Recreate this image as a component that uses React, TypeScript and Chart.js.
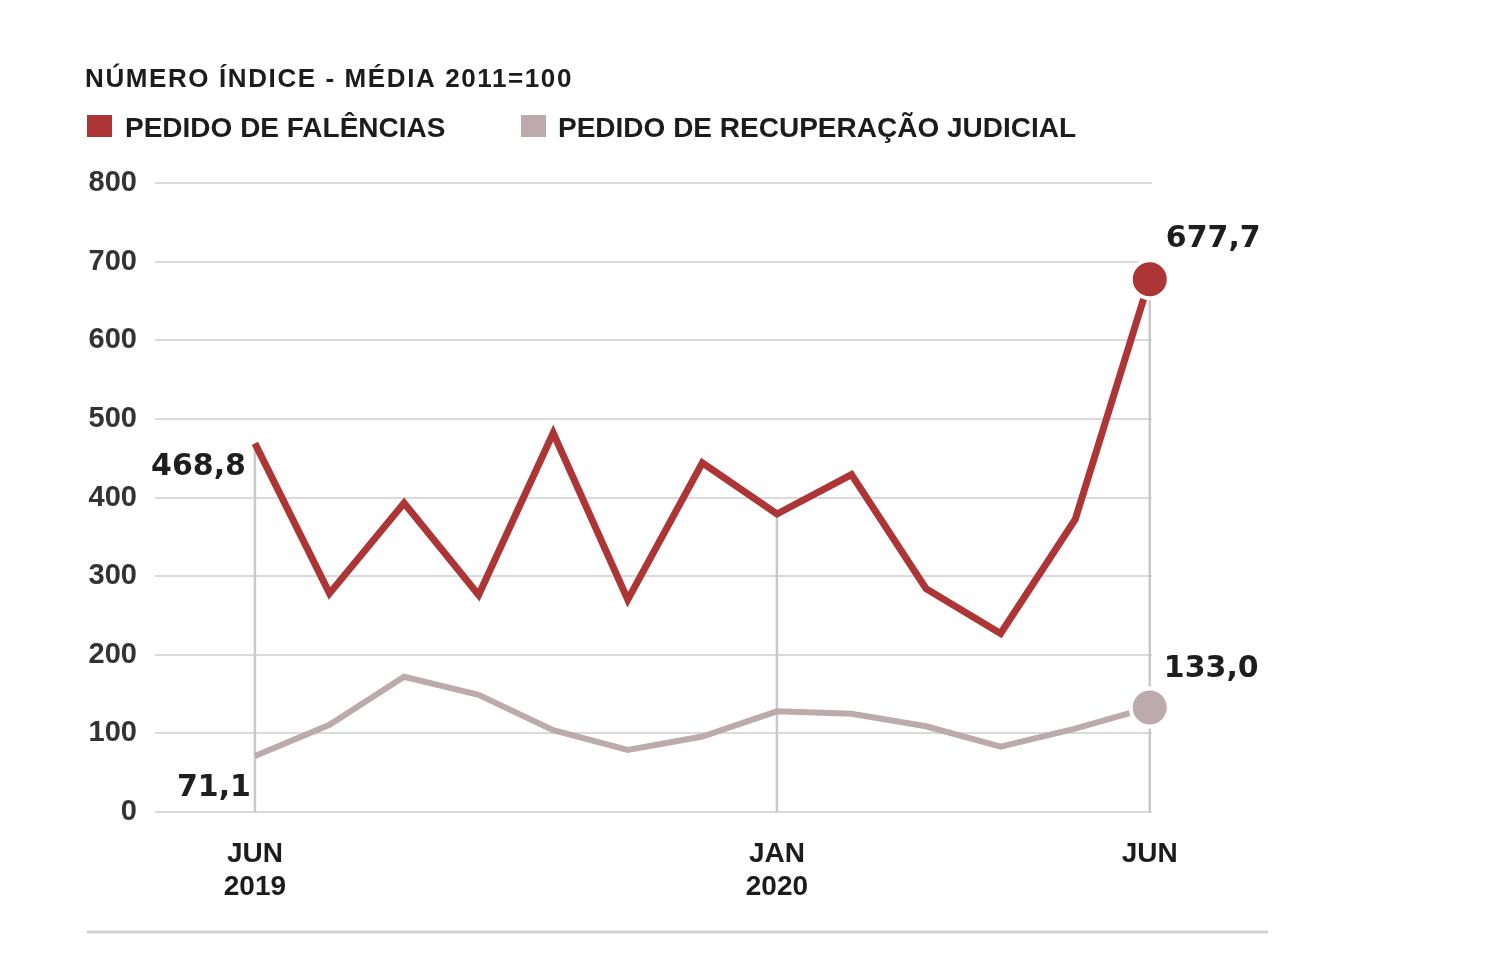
import { useEffect, useRef } from "react";
import { Chart, registerables } from "chart.js";

Chart.register(...registerables);

// ---- data ----
const months = ["JUN 2019", "JUL", "AGO", "SET", "OUT", "NOV", "DEZ", "JAN 2020", "FEV", "MAR", "ABR", "MAI", "JUN 2020"];
const falencias = [468.8, 278, 393, 276, 482, 270, 444, 379, 429, 284, 227, 372, 677.7];
const recuperacao = [71.1, 111, 172, 149, 104, 79, 96, 128, 125, 109, 83, 106, 133.0];
const xTickIndex = [0, 7, 12];
const xTickLabels = [["JUN", "2019"], ["JAN", "2020"], ["JUN"]];
const yMin = 0;
const yMax = 800;
const yStep = 100;
const titleText = "NÚMERO ÍNDICE - MÉDIA 2011=100";
const legendLabels = ["PEDIDO DE FALÊNCIAS", "PEDIDO DE RECUPERAÇÃO JUDICIAL"];

const RED = "#ad3535";
const GRAY = "#bcaaad";
const FONT = "'Liberation Sans', Arial, sans-serif";
const NUM_FONT = "'DejaVu Sans', Verdana, sans-serif";

const fmt = (v: number) => v.toFixed(1).replace(".", ",");

const decorPlugin = {
  id: "decor",
  beforeDatasetsDraw(chart: any) {
    const { ctx, scales } = chart;
    const x = scales.x;
    const y = scales.y;
    ctx.save();
    ctx.strokeStyle = "#c9c9c9";
    ctx.lineWidth = 2.5;
    xTickIndex.forEach((i) => {
      const px = x.getPixelForValue(i);
      ctx.beginPath();
      ctx.moveTo(px, y.getPixelForValue(0));
      ctx.lineTo(px, y.getPixelForValue(falencias[i]));
      ctx.stroke();
    });
    ctx.restore();
  },
  afterDraw(chart: any) {
    const { ctx, scales } = chart;
    const x = scales.x;
    const y = scales.y;
    ctx.save();
    // title
    ctx.fillStyle = "#1c1c1c";
    ctx.textBaseline = "alphabetic";
    ctx.textAlign = "left";
    ctx.font = `bold 26px ${FONT}`;
    (ctx as any).letterSpacing = "1.6px";
    ctx.fillText(titleText, 85, 87);
    (ctx as any).letterSpacing = "0px";
    // legend
    ctx.font = `bold 28px ${FONT}`;
    ctx.fillStyle = RED;
    ctx.fillRect(87, 115, 25, 22);
    ctx.fillStyle = "#1c1c1c";
    ctx.fillText(legendLabels[0], 125, 137);
    ctx.fillStyle = GRAY;
    ctx.fillRect(521, 115, 25, 22);
    ctx.fillStyle = "#1c1c1c";
    ctx.fillText(legendLabels[1], 558, 137);

    // callout labels
    const last = falencias.length - 1;
    ctx.font = `bold 30px ${NUM_FONT}`;
    ctx.fillStyle = "#1e1e1e";
    const fx0 = x.getPixelForValue(0);
    const fxl = x.getPixelForValue(last);
    ctx.textAlign = "right";
    ctx.fillText(fmt(falencias[0]), fx0 - 9, y.getPixelForValue(falencias[0]) + 32);
    ctx.fillText(fmt(recuperacao[0]), fx0 - 4, y.getPixelForValue(recuperacao[0]) + 40);
    ctx.textAlign = "left";
    ctx.fillText(fmt(falencias[last]), fxl + 16, y.getPixelForValue(falencias[last]) - 32);
    ctx.fillText(fmt(recuperacao[last]), fxl + 14, y.getPixelForValue(recuperacao[last]) - 30);

    // bottom rule
    ctx.strokeStyle = "#d2d2d2";
    ctx.lineWidth = 3;
    ctx.beginPath();
    ctx.moveTo(87, 932);
    ctx.lineTo(1268, 932);
    ctx.stroke();
    ctx.restore();
  },
};

export default function App() {
  const ref = useRef<HTMLCanvasElement | null>(null);

  useEffect(() => {
    if (!ref.current) return;
    const last = months.length - 1;
    const chart = new Chart(ref.current, {
      type: "line",
      data: {
        datasets: [
          {
            label: legendLabels[0],
            data: falencias.map((v, i) => ({ x: i, y: v })),
            borderColor: RED,
            backgroundColor: RED,
            borderWidth: 7,
            tension: 0,
            pointRadius: falencias.map((_, i) => (i === last ? 19 : 0)),
            pointHoverRadius: 0,
            pointBackgroundColor: RED,
            pointBorderColor: "#ffffff",
            pointBorderWidth: 4,
            clip: false,
          },
          {
            label: legendLabels[1],
            data: recuperacao.map((v, i) => ({ x: i, y: v })),
            borderColor: GRAY,
            backgroundColor: GRAY,
            borderWidth: 6,
            tension: 0,
            pointRadius: recuperacao.map((_, i) => (i === last ? 19 : 0)),
            pointHoverRadius: 0,
            pointBackgroundColor: GRAY,
            pointBorderColor: "#ffffff",
            pointBorderWidth: 4,
            clip: false,
          },
        ],
      },
      options: {
        animation: false,
        responsive: false,
        events: [],
        layout: { padding: { left: 60, right: 340, top: 183, bottom: 68 } },
        plugins: {
          legend: { display: false },
          title: { display: false },
          tooltip: { enabled: false },
        },
        scales: {
          x: {
            type: "linear",
            min: -1.34,
            max: 12.03,
            grid: { display: false, drawTicks: false },
            border: { display: false },
            afterBuildTicks: (scale: any) => {
              scale.ticks = xTickIndex.map((v) => ({ value: v }));
            },
            afterFit: (scale: any) => {
              scale.height = 100;
            },
            ticks: {
              autoSkip: false,
              maxRotation: 0,
              padding: 25,
              color: "#1c1c1c",
              font: { family: FONT, size: 28, weight: "bold", lineHeight: 1.2 },
              callback: (v: any) => {
                const k = xTickIndex.indexOf(Number(v));
                return k >= 0 ? xTickLabels[k] : "";
              },
            },
          },
          y: {
            min: yMin,
            max: yMax,
            grid: { color: "#dadada", lineWidth: 2, drawTicks: false },
            border: { display: false },
            afterFit: (scale: any) => {
              scale.width = 95;
            },
            ticks: {
              stepSize: yStep,
              padding: 18,
              color: "#333333",
              font: { family: FONT, size: 29, weight: "bold" },
            },
          },
        },
      },
      plugins: [decorPlugin],
    } as any);
    return () => chart.destroy();
  }, []);

  return (
    <div style={{ position: "fixed", left: 0, top: 0, width: 1492, height: 980, background: "#fff" }}>
      <canvas ref={ref} width={1492} height={980} style={{ width: 1492, height: 980, display: "block" }} />
    </div>
  );
}
